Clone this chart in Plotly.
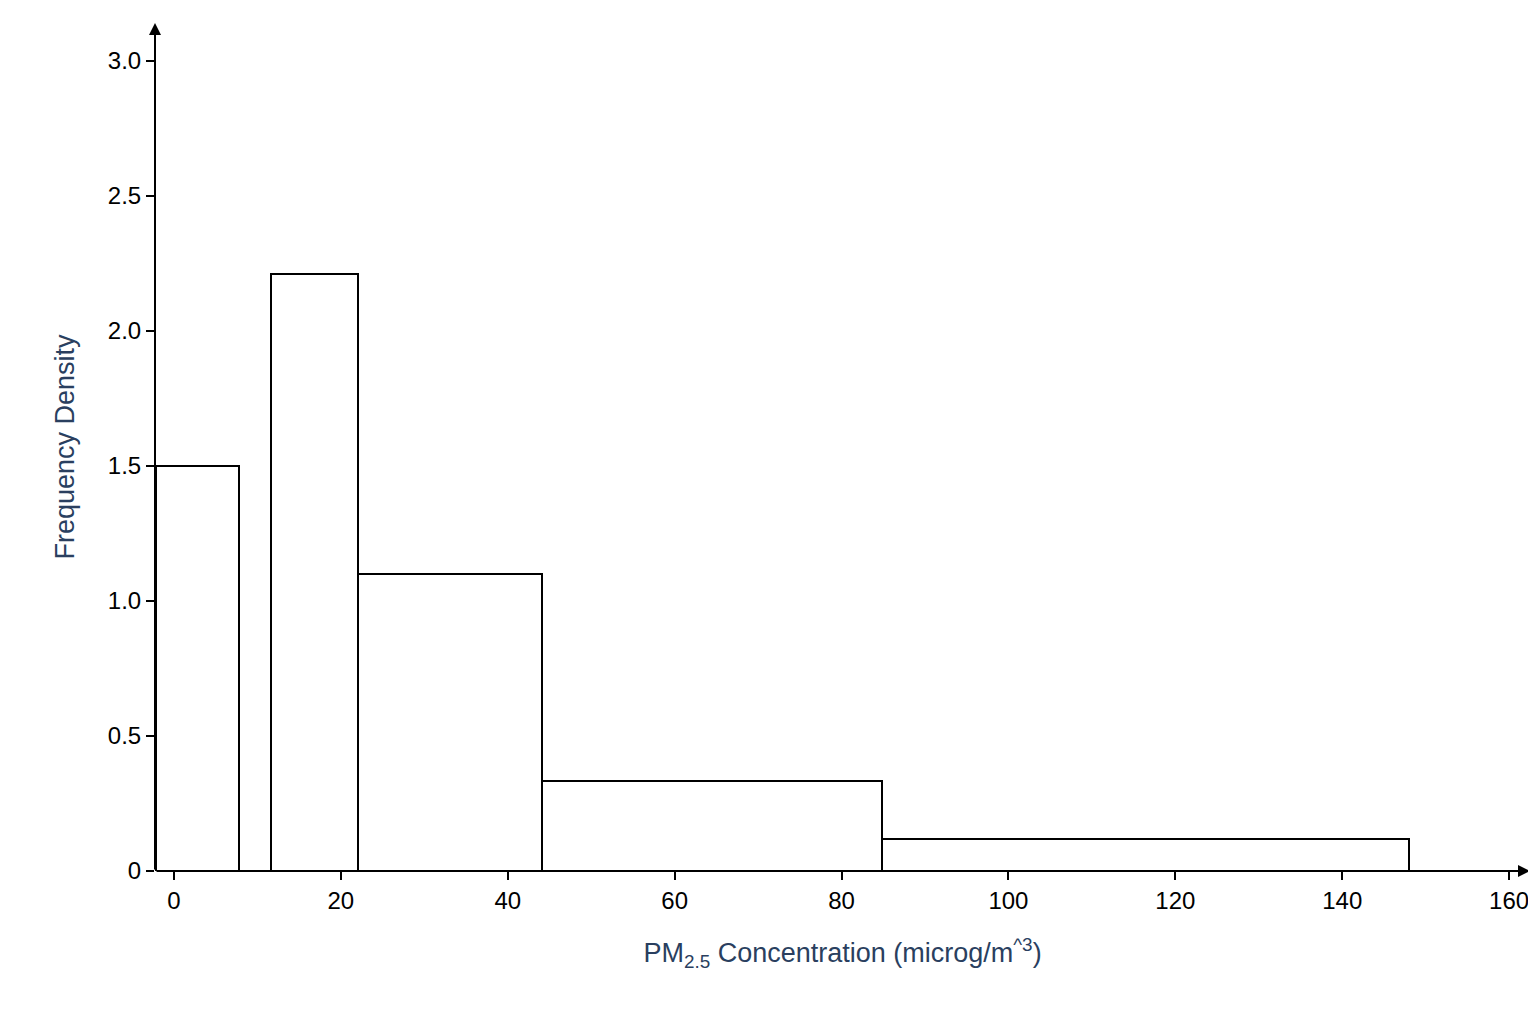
import plotly.graph_objects as go

# bin edges and frequency densities
bin_left = [-2.2, 11.6, 22.1, 44.1, 84.8]
bin_right = [7.8, 22.1, 44.1, 84.8, 148.0]
density = [1.50, 2.21, 1.10, 0.334, 0.119]
x_ticks = [0, 20, 40, 60, 80, 100, 120, 140, 160]
y_ticks = [0, 0.5, 1.0, 1.5, 2.0, 2.5, 3.0]
y_tick_text = ["0", "0.5", "1.0", "1.5", "2.0", "2.5", "3.0"]

centers = [(a + b) / 2 for a, b in zip(bin_left, bin_right)]
widths = [b - a for a, b in zip(bin_left, bin_right)]

fig = go.Figure(go.Bar(
    x=centers, y=density, width=widths,
    marker=dict(color="white", line=dict(color="black", width=2)),
))

xr = [-2.27, 162.5]
yr = [0, 3.14]
axis_font = dict(family="Liberation Sans, Arial", size=24, color="black")

fig.update_layout(
    width=1536, height=1024,
    plot_bgcolor="white", paper_bgcolor="white",
    margin=dict(l=147, r=14, t=15, b=161),
    showlegend=False, bargap=0,
    xaxis=dict(range=xr, tickvals=x_ticks, ticks="outside", ticklen=8,
               tickcolor="black", tickwidth=2, showgrid=False, zeroline=False,
               showline=False, tickfont=axis_font,
               title=dict(text="PM<sub>2.5</sub> Concentration (microg/m<sup>^3</sup>)",
                          font=dict(family="Liberation Sans, Arial", size=27), standoff=30)),
    yaxis=dict(range=yr, tickvals=y_ticks, ticktext=y_tick_text, ticks="outside",
               ticklen=8, tickcolor="black", tickwidth=2, showgrid=False,
               zeroline=False, showline=False, tickfont=axis_font,
               title=dict(text="Frequency Density",
                          font=dict(family="Liberation Sans, Arial", size=27), standoff=25)),
)

# axis lines with arrowheads
fig.add_annotation(x=1, y=0, xref="x domain", yref="y domain", ax=0, ay=0,
                   axref="x domain", ayref="y domain", showarrow=True, arrowhead=2,
                   arrowsize=1.2, arrowwidth=2, arrowcolor="black", text="")
fig.add_annotation(x=0, y=1, xref="x domain", yref="y domain", ax=0, ay=0,
                   axref="x domain", ayref="y domain", showarrow=True, arrowhead=2,
                   arrowsize=1.2, arrowwidth=2, arrowcolor="black", text="")

fig.write_html("out.html")
